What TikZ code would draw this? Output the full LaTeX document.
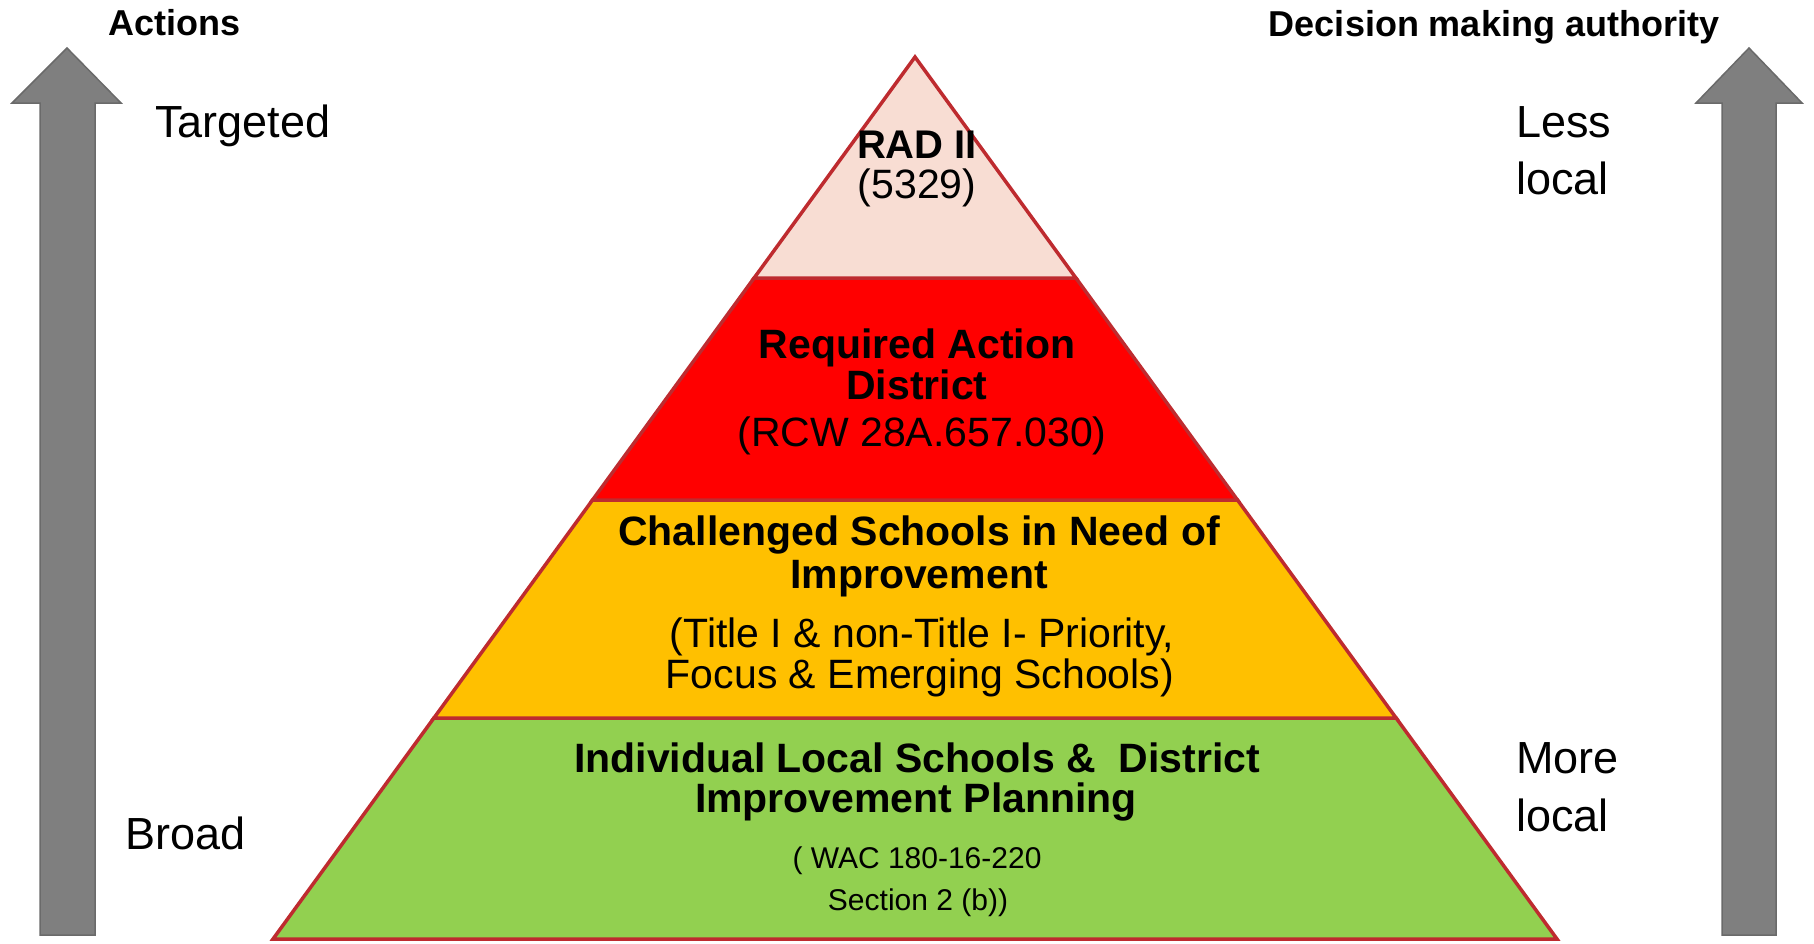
\documentclass[tikz,border=0pt]{standalone}
\usepackage{fontspec}
\setmainfont{Liberation Sans}
\definecolor{tierline}{HTML}{BE2B2F}
\definecolor{tierpink}{HTML}{F8DDD3}
\definecolor{tierred}{HTML}{FF0000}
\definecolor{tierorange}{HTML}{FFC000}
\definecolor{tiergreen}{HTML}{92D050}
\definecolor{arrowgray}{HTML}{7F7F7F}
\definecolor{arrowedge}{HTML}{6A6A6A}
\begin{document}
\begin{tikzpicture}[x=1pt,y=-1pt,
  head/.style={font=\fontsize{36}{36}\selectfont\bfseries, inner sep=0pt, anchor=base},
  side/.style={font=\fontsize{45}{45}\selectfont, inner sep=0pt, anchor=base west},
  tierbold/.style={font=\fontsize{41}{41}\selectfont\bfseries, inner sep=0pt, anchor=base},
  tiernote/.style={font=\fontsize{41}{41}\selectfont, inner sep=0pt, anchor=base},
  tiersmall/.style={font=\fontsize{30}{30}\selectfont, inner sep=0pt, anchor=base},
  layer/.style={draw=tierline, line width=3.5pt, line join=miter},
  updarrow/.style={fill=arrowgray, draw=arrowedge, line width=1.5pt, line join=miter}]
\useasboundingbox (0,0) rectangle (1814,943);

% vertical arrows
\draw[updarrow] (67,48) -- (121,103) -- (95,103) -- (95,935) -- (40,935) -- (40,103) -- (12,103) -- cycle;
\draw[updarrow] (1749,48) -- (1802,103) -- (1776,103) -- (1776,935) -- (1722,935) -- (1722,103) -- (1696,103) -- cycle;

% pyramid corners
\coordinate (apex) at (915,57);
\coordinate (l1) at (754.1,278);  \coordinate (r1) at (1075.9,278);
\coordinate (l2) at (592.5,500);  \coordinate (r2) at (1237.5,500);
\coordinate (l3) at (433.9,718);  \coordinate (r3) at (1396.1,718);
\coordinate (l4) at (273,939);    \coordinate (r4) at (1557,939);

% pyramid tiers
\draw[layer, fill=tiergreen]  (l3) -- (r3) -- (r4) -- (l4) -- cycle;
\draw[layer, fill=tierorange] (l2) -- (r2) -- (r3) -- (l3) -- cycle;
\draw[layer, fill=tierred]    (l1) -- (r1) -- (r2) -- (l2) -- cycle;
\draw[layer, fill=tierpink]   (apex) -- (r1) -- (l1) -- cycle;

% headings
\node[head, anchor=base west] (actions) at (108,35) {Actions};
\node[head] (authority) at (1494,36) {Decision making authority};

% side labels
\node[side] (targeted) at (155,137) {Targeted};
\node[side] (broad) at (125,849) {Broad};
\node[side] (less) at (1516,137) {Less};
\node[side] (lesslocal) at (1516,194) {local};
\node[side] (more) at (1516,773) {More};
\node[side] (morelocal) at (1516,831) {local};

% top tier
\node[tierbold, font=\fontsize{40}{40}\selectfont\bfseries] (rad) at (917,158) {RAD II};
\node[tiernote] (radcode) at (917,198) {(5329)};

% second tier
\node[tierbold] (req1) at (917,358) {Required Action};
\node[tierbold] (req2) at (917,399) {District};
\node[tiernote] (reqcode) at (922,446) {(RCW 28A.657.030)};

% third tier
\node[tierbold] (chal1) at (919,545) {Challenged Schools in Need of};
\node[tierbold] (chal2) at (919,588) {Improvement};
\node[tiernote] (chal3) at (922,647) {(Title I \& non-Title I- Priority,};
\node[tiernote] (chal4) at (920,688) {Focus \& Emerging Schools)};

% base tier
\node[tierbold] (ind1) at (917,772) {Individual Local Schools \&\ \ District};
\node[tierbold] (ind2) at (916,812) {Improvement Planning};
\node[tiersmall] (ind3) at (917,868) {( WAC 180-16-220};
\node[tiersmall] (ind4) at (918,910) {Section 2 (b))};
\end{tikzpicture}
\end{document}
